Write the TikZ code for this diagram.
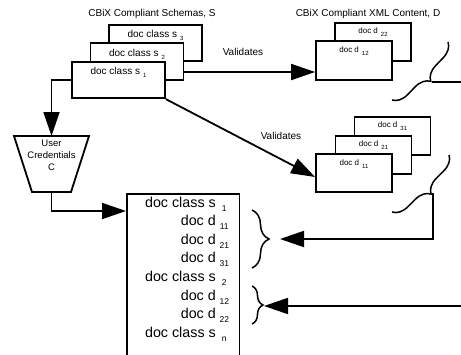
\documentclass[tikz,border=0pt]{standalone}
\usepackage{fontspec}
\setmainfont{Liberation Sans}
\usetikzlibrary{arrows.meta,decorations.pathreplacing}

% subscripts: large list entries and small box labels
\newcommand\docsub[1]{\hspace{4pt}\raisebox{-4pt}{\fontsize{8.5}{8.5}\selectfont\makebox[9pt][c]{#1}}}
\newcommand\boxsub[1]{\hspace{3pt}\raisebox{-3pt}{\fontsize{6}{6}\selectfont #1}}

\begin{document}
\begin{tikzpicture}[x=1pt,y=-1pt,
  box/.style={draw, line width=1.8pt, fill=white, minimum width=93pt,
    minimum height=36.5pt, inner sep=0pt},
  dbox/.style={box, minimum width=76pt, minimum height=38.5pt},
  slabel/.style={anchor=base, inner sep=0pt, font=\fontsize{10}{12}\selectfont},
  dlabel/.style={anchor=base, inner sep=0pt, font=\fontsize{8}{10}\selectfont},
  caption/.style={inner sep=0pt, font=\fontsize{10}{12}\selectfont},
  rowtext/.style={anchor=base east, inner sep=0pt, font=\fontsize{14.3}{17}\selectfont},
  conn/.style={line width=1.8pt},
  arr/.style={conn, -{Triangle[length=24pt,width=16pt]}},
  bracestyle/.style={line width=1.5pt, decorate, decoration={brace, amplitude=#1}},
]
\clip (0,0) rectangle (461,354);

% schema stack
\node[caption] (stitle) at (152,14) {CBiX Compliant Schemas, S};
\node[box] (s3) at (155.5,43) {};
\node[slabel] (s3t) at ([yshift=-13.5pt]s3.north) {doc class s\boxsub{3}};
\node[box] (s2) at (137,61.5) {};
\node[slabel] (s2t) at ([yshift=-14pt]s2.north) {doc class s\boxsub{2}};
\node[box] (s1) at (118.5,80) {};
\node[slabel] (s1t) at ([yshift=-14pt]s1.north) {doc class s\boxsub{1}};

% content stack, upper
\node[caption] (dtitle) at (368,14) {CBiX Compliant XML Content, D};
\node[dbox] (d22) at (373,42) {};
\node[dlabel] (d22t) at ([yshift=-12pt]d22.north) {doc d\boxsub{22}};
\node[dbox] (d12) at (354,60.5) {};
\node[dlabel] (d12t) at ([yshift=-12.5pt]d12.north) {doc d\boxsub{12}};

% content stack, lower
\node[dbox] (d31) at (392.5,136) {};
\node[dlabel] (d31t) at ([yshift=-12pt]d31.north) {doc d\boxsub{31}};
\node[dbox] (d21) at (373.5,155) {};
\node[dlabel] (d21t) at ([yshift=-12pt]d21.north) {doc d\boxsub{21}};
\node[dbox] (d11) at (354,173) {};
\node[dlabel] (d11t) at ([yshift=-12.5pt]d11.north) {doc d\boxsub{11}};

% user credentials (inverted trapezoid)
\coordinate (credN) at (51.5,136);
\coordinate (credS) at (51.5,192);
\draw[line width=1.8pt] (14,136) -- (89,136) -- (71,192) -- (32,192) -- cycle;
\node[inner sep=0pt, align=center, font=\fontsize{9.5}{12}\selectfont]
  (credt) at (51.5,155) {User\\Credentials\\C};

% combined list
\node[draw, line width=1.8pt, anchor=north west, minimum width=112.5pt,
  minimum height=175pt, inner sep=0pt] (big) at (126,193) {};
\foreach \t/\s/\y [count=\i] in {doc class s/1/207, doc d/11/225.5,
    doc d/21/244, doc d/31/262.5, doc class s/2/281, doc d/12/300,
    doc d/22/318.5, doc class s/n/337}
  \node[rowtext] (row\i) at (229,\y) {\t\docsub{\s}};

% braces
\draw[bracestyle=17pt] (252,210) -- (252,268);
\draw[bracestyle=11pt] (252,286) -- (252,324);
\draw[bracestyle=15pt] (448,42) -- (392,100);
\draw[bracestyle=15pt] (449,155) -- (392,212);

% connectors
\coordinate (v1) at ([yshift=-10.5pt]s2.east);
\draw[arr] (v1) -- (v1 -| d12.west);
\node[caption] (val1) at (243,52) {Validates};
\draw[arr] (s1.south east) -- ([yshift=-4pt]d11.west);
\node[caption] (val2) at (281,136) {Validates};
\draw[arr] (s1.west) -| (credN);
\coordinate (bigin) at (126,211);
\draw[arr] (credS) |- (bigin);

\coordinate (tipA) at (431.5,82);
\coordinate (edgeA) at (461,82);
\draw[conn] (tipA) -- (edgeA);
\coordinate (tipB) at (433,193);
\coordinate (inA) at (280,239);
\draw[arr] (tipB) |- (inA);
\coordinate (edgeB) at (461,306);
\coordinate (inB) at (264,306);
\draw[arr] (edgeB) -- (inB);
\end{tikzpicture}
\end{document}
